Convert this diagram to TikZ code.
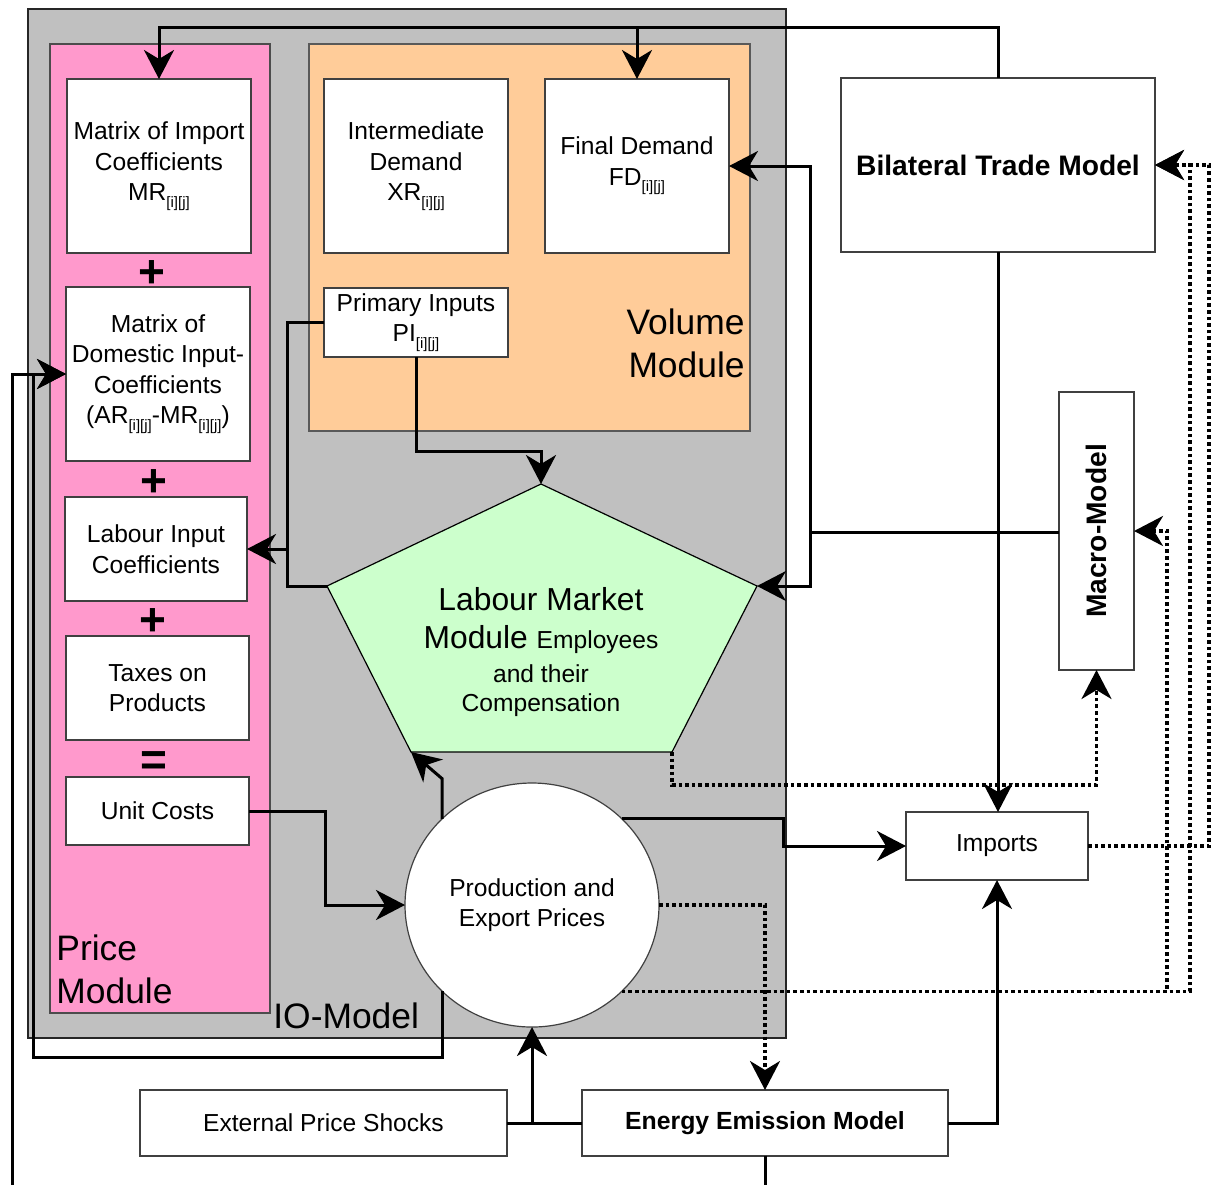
\documentclass[tikz,border=0pt]{standalone}
\usepackage{fontspec}
\setmainfont{Liberation Sans}
\usetikzlibrary{arrows.meta,shapes.geometric}
\definecolor{iogray}{HTML}{C0C0C0}
\definecolor{prpink}{HTML}{FF99CC}
\definecolor{vlorange}{HTML}{FFCC99}
\definecolor{lmgreen}{HTML}{CCFFCC}
\newcommand\fnorm{\fontsize{12.3}{15.25}\selectfont}
\newcommand\fbigl{\fontsize{15.9}{19}\selectfont}
\newcommand\fhuge{\fontsize{17.7}{21.5}\selectfont}
\newcommand\fbtm{\fontsize{14.1}{17}\selectfont\bfseries}
\newcommand\fbeem{\fontsize{12.4}{15}\selectfont\bfseries}
\newcommand\fops{\fontsize{23}{23}\selectfont\bfseries}
\newcommand\sbx[1]{\raisebox{-3.2pt}{\fontsize{7.5}{8}\selectfont #1}}
\begin{document}
\begin{tikzpicture}[x=0.5pt,y=-0.5pt,
  box/.style={draw=black!75,line width=0.6pt,fill=white,inner sep=0pt,outer sep=0pt,align=center,font=\fnorm},
  sz/.style n args={2}{minimum width=#1*0.5pt,minimum height=#2*0.5pt},
  con/.style={line width=1.5pt,line join=miter},
  arr/.style={con,-{Stealth[length=14.5pt,width=15pt,inset=4.5pt]}},
  dot/.style={line width=1.7pt,dash pattern=on 1.8pt off 1.5pt},
  bg/.style={line width=0.6pt},
  opsign/.style={font=\fops,inner sep=0pt}]
\useasboundingbox (0,0) rectangle (1213,1184);
% module backgrounds
\filldraw[bg,fill=iogray,draw=black!85] (28,9) rectangle (786,1038);
\filldraw[bg,fill=prpink,draw=black!70] (50,44) rectangle (270,1013);
\filldraw[bg,fill=vlorange,draw=black!65] (309,44) rectangle (750,431);
\node[anchor=base west,font=\fhuge,inner sep=0pt] (iol) at (273,1028) {IO-Model};
\node[anchor=base west,align=left,font=\fhuge,inner sep=0pt] (prl) at (56,1003) {Price\\Module};
\node[anchor=base east,align=right,font=\fhuge,inner sep=0pt] (vol) at (745,377) {Volume\\Module};
% price module boxes
\node[box,sz={184}{174}] (mic) at (159,166) {Matrix of Import\\Coefficients\\MR\sbx{[i][j]}};
\node[box,sz={184}{174}] (mdc) at (158,374) {Matrix of\\Domestic Input-\\Coefficients\\(AR\sbx{[i][j]}-MR\sbx{[i][j]})};
\node[box,sz={182}{104}] (lic) at (156,549) {Labour Input\\Coefficients};
\node[box,sz={183}{104}] (tax) at (157.5,688) {Taxes on\\Products};
\node[box,sz={183}{68}] (uc) at (157.5,811) {Unit Costs};
\node[opsign] (op1) at (152,274) {+};
\node[opsign] (op2) at (154,483) {+};
\node[opsign] (op3) at (153,622) {+};
\node[opsign] (op4) at (154,764) {=};
% volume module boxes
\node[box,sz={184}{174}] (idm) at (416,166) {Intermediate\\Demand\\XR\sbx{[i][j]}};
\node[box,sz={184}{174}] (fd) at (637,166) {Final Demand\\FD\sbx{[i][j]}};
\node[box,sz={184}{69}] (pi) at (416,322.5) {Primary Inputs\\PI\sbx{[i][j]}};
% external models
\node[box,sz={314}{174},font=\fbtm] (btm) at (998,165) {Bilateral Trade Model};
\node[box,sz={75}{278}] (mac) at (1096.5,531) {};
\node[rotate=90,font=\fbtm,inner sep=0pt] (mact) at (mac.center) {Macro-Model};
\node[box,sz={182}{68}] (imp) at (997,846) {Imports};
\node[box,sz={367}{66}] (eps) at (323.5,1123) {External Price Shocks};
\node[box,sz={366}{66},font=\fbeem] (eem) at (765,1123) {Energy Emission Model};
% production and export prices
\node[box,ellipse,sz={254}{244}] (pep) at (532,905) {Production and\\Export Prices};
% labour market module (pentagon)
\coordinate (pt) at (541,484);
\coordinate (pr) at (757,586);
\coordinate (pbr) at (672,752);
\coordinate (pbl) at (411,752);
\coordinate (pl) at (327,586);
\filldraw[fill=lmgreen,draw=black,line width=0.6pt] (pt) -- (pr) -- (pbr) -- (pbl) -- (pl) -- cycle;
\node[align=center,inner sep=0pt,anchor=base,font=\fnorm] (lmt) at (541,711)
  {\fbigl Labour Market\\[3.75pt] \fbigl Module \fnorm Employees\\[1.75pt] \fnorm and their\\[-0.75pt] \fnorm Compensation};
% helper coordinates
\coordinate (ytop) at (0,27);
\coordinate (xmac) at (810,532);
\coordinate (xk) at (33,0);
\coordinate (xl) at (12,1200);
\coordinate (xd1) at (1167,0);
\coordinate (xd2) at (1190,0);
\coordinate (xd3) at (1209,0);
% solid connectors
\draw[arr] (btm.north) -- (btm.north |- ytop) -| (mic.north);
\draw[arr] (fd.north |- ytop) -- (fd.north);
\draw[arr] (btm.south) -- (btm.south |- imp.north);
\draw[con] (mac.west |- xmac) -- (xmac);
\draw[arr] (xmac) |- (fd.east);
\draw[arr] (xmac) |- (pr);
\draw[arr] (pi.south) -- ++(0,94) -| (pt);
\draw[con] (pi.west) -- ++(-37,0) coordinate (pj) |- (pl);
\draw[arr] (pj |- lic.east) -- (lic.east);
\draw[arr] (uc.east) -- ++(76,0) |- (pep.west);
\draw[arr] (pep.north east) -- ++(162,0) |- (imp.west);
\draw[arr] (pep.north west) -- ++(0,-40) -- (pbl);
\draw[arr] (pep.south west) -- ++(0,66) -| (xk |- mdc.west) -- (mdc.west);
\draw[con] (eem.south) -- ++(0,40);
\draw[arr] (xl) |- (mdc.west);
\draw[con] (eps.east) -- (eem.west);
\draw[arr] (eps.east -| pep.south) -- (pep.south);
\draw[arr] (eem.east) -| (imp.south);
% dotted connectors
\draw[arr,dot] (pep.east) -| (eem.north);
\draw[arr,dot] (pbr) -- ++(0,33) -| (mac.south);
\draw[arr,dot] (pep.south east) -- (xd1 |- pep.south east) |- (mac.east);
\draw[arr,dot] (pep.south east) -- (xd2 |- pep.south east) |- (btm.east);
\draw[arr,dot] (imp.east) -- (xd3 |- imp.east) |- (btm.east);
\end{tikzpicture}
\end{document}
